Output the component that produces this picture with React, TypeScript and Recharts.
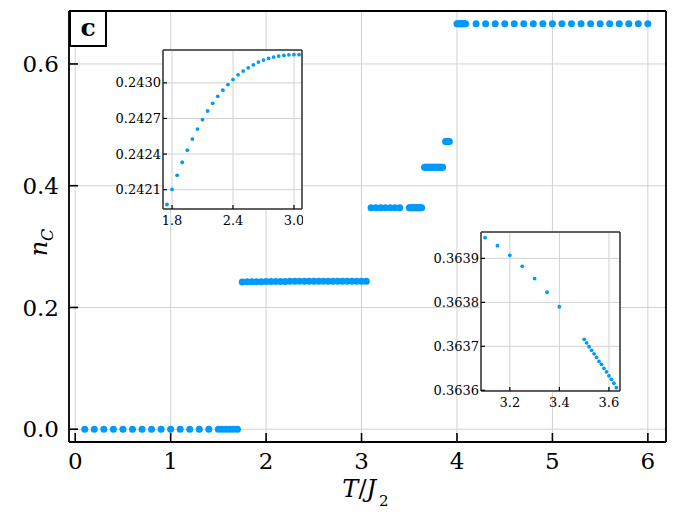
import React from 'react';
import { ScatterChart, Scatter, XAxis, YAxis, CartesianGrid } from 'recharts';

const BLUE = '#009AFA';
const FONT = '"DejaVu Serif", serif';
const GRID = '#d2d2d2';

// n_C against T/J2, one pair of arrays per plateau
const tZero = [0.1, 0.2, 0.3, 0.4, 0.5, 0.6, 0.7, 0.8, 0.9, 1.0, 1.1, 1.2, 1.3, 1.4, 1.5, 1.54, 1.58, 1.62, 1.66, 1.7];
const nZero = [0, 0, 0, 0, 0, 0, 0, 0, 0, 0, 0, 0, 0, 0, 0, 0, 0, 0, 0, 0];

const tLow = [1.75, 1.8, 1.85, 1.9, 1.95, 2.0, 2.05, 2.1, 2.15, 2.2, 2.25, 2.3, 2.35, 2.4, 2.45, 2.5, 2.55, 2.6, 2.65, 2.7, 2.75, 2.8, 2.85, 2.9, 2.95, 3.0, 3.05];
const nLow = [0.241975, 0.242102, 0.242221, 0.242331, 0.242433, 0.242526, 0.242611, 0.24269, 0.242763, 0.242828, 0.242887, 0.242938, 0.242986, 0.243028, 0.243068, 0.243099, 0.243127, 0.243152, 0.243175, 0.243192, 0.243206, 0.243217, 0.243226, 0.243231, 0.243236, 0.243238, 0.243238];

const tMid = [3.1, 3.15, 3.2, 3.25, 3.3, 3.35, 3.4, 3.5, 3.51, 3.52, 3.53, 3.54, 3.55, 3.56, 3.57, 3.58, 3.59, 3.6, 3.61, 3.62, 3.63];
const nMid = [0.363947, 0.363929, 0.363907, 0.363882, 0.363854, 0.363823, 0.36379, 0.363716, 0.363708, 0.363699, 0.363691, 0.363683, 0.363675, 0.363666, 0.363659, 0.36365, 0.363642, 0.363633, 0.363625, 0.363616, 0.363606];

const tUp1 = [3.66, 3.67, 3.68, 3.69, 3.7, 3.71, 3.72, 3.73, 3.74, 3.75, 3.76, 3.77, 3.78, 3.79, 3.8, 3.81, 3.82, 3.83, 3.84, 3.85];
const nUp1 = [0.4303, 0.4303, 0.4303, 0.4303, 0.4303, 0.4303, 0.4303, 0.4303, 0.4303, 0.4303, 0.4303, 0.4303, 0.4303, 0.4303, 0.4303, 0.4303, 0.4303, 0.4303, 0.4303, 0.4303];

const tUp2 = [3.88, 3.89, 3.9, 3.91, 3.92];
const nUp2 = [0.4725, 0.4725, 0.4725, 0.4725, 0.4725];

const tHigh = [4.0, 4.01, 4.02, 4.03, 4.04, 4.05, 4.06, 4.07, 4.08, 4.09, 4.2, 4.3, 4.4, 4.5, 4.6, 4.7, 4.8, 4.9, 5.0, 5.1, 5.2, 5.3, 5.4, 5.5, 5.6, 5.7, 5.8, 5.9, 6.0];
const nHigh = [0.666, 0.666, 0.666, 0.666, 0.666, 0.666, 0.666, 0.666, 0.666, 0.666, 0.666, 0.666, 0.666, 0.666, 0.666, 0.666, 0.666, 0.666, 0.666, 0.666, 0.666, 0.666, 0.666, 0.666, 0.666, 0.666, 0.666, 0.666, 0.666];

const xTicks = [0, 1, 2, 3, 4, 5, 6];
const yTicks = [0, 0.2, 0.4, 0.6];
const inset1XTicks = [1.8, 2.4, 3.0];
const inset1YTicks = [0.2421, 0.2424, 0.2427, 0.243];
const inset2XTicks = [3.2, 3.4, 3.6];
const inset2YTicks = [0.3636, 0.3637, 0.3638, 0.3639];

const rows = (t: number[], n: number[]) => t.map((x, i) => ({ t: x, n: n[i] }));

const dot = (r: number) => (p: any) => <circle cx={p.cx} cy={p.cy} r={r} fill={BLUE} />;
const bigDot = dot(3.5);
const smallDot = dot(1.9);

const XLabel = (props: any) => {
  const vb = props.viewBox;
  return (
    <text x={vb.x + vb.width / 2 - 2} y={vb.y + 55} textAnchor="middle" fontFamily={FONT} fontSize={24} fill="#000">
      <tspan fontStyle="italic">T</tspan>
      <tspan>/</tspan>
      <tspan fontStyle="italic">J</tspan>
      <tspan fontSize={15} dx={3} dy={9}>2</tspan>
    </text>
  );
};

const YLabel = (props: any) => {
  const vb = props.viewBox;
  const x = vb.x + 47;
  const y = vb.y + vb.height / 2 + 16;
  return (
    <text x={x} y={y} transform={`rotate(-90 ${x} ${y})`} textAnchor="middle" fontFamily={FONT} fontSize={24} fill="#000">
      <tspan fontStyle="italic">n</tspan>
      <tspan fontStyle="italic" fontSize={16} dy={6}>C</tspan>
    </text>
  );
};

const mainFrame = { stroke: '#000', strokeWidth: 1.8 };
const mainTick = { stroke: '#000', strokeWidth: 1.6 };

function Inset({ data, xDomain, yDomain, xTicks, yTicks, left, top }: any) {
  const frame = { stroke: '#333', strokeWidth: 1.5 };
  const tl = { stroke: '#000', strokeWidth: 1.2 };
  const tickFont = { fill: '#000', fontSize: 13, fontFamily: FONT };
  return (
    <div style={{ position: 'absolute', left, top }}>
      <ScatterChart width={196} height={184} margin={{ top: 0, right: 0, bottom: 0, left: 0 }}>
        <CartesianGrid xAxisId="b" yAxisId="l" stroke={GRID} fill="#fff" fillOpacity={1} />
        <XAxis xAxisId="b" type="number" dataKey="t" domain={xDomain} allowDataOverflow ticks={xTicks} interval={0}
          height={24} tickSize={-4} tickMargin={11} axisLine={frame} tickLine={tl} tick={tickFont}
          tickFormatter={(v: number) => v.toFixed(1)} />
        <XAxis xAxisId="t" orientation="top" type="number" dataKey="t" domain={xDomain} allowDataOverflow ticks={xTicks}
          interval={0} height={1} tickSize={-4} tick={false} axisLine={frame} tickLine={tl} />
        <YAxis yAxisId="l" type="number" dataKey="n" domain={yDomain} allowDataOverflow ticks={yTicks} interval={0}
          width={56} tickSize={-4} tickMargin={6} axisLine={frame} tickLine={tl} tick={tickFont}
          tickFormatter={(v: number) => v.toFixed(4)} />
        <YAxis yAxisId="r" orientation="right" type="number" dataKey="n" domain={yDomain} allowDataOverflow ticks={yTicks}
          interval={0} width={1} tickSize={-4} tick={false} axisLine={frame} tickLine={tl} />
        <Scatter xAxisId="b" yAxisId="l" data={data} shape={smallDot} isAnimationActive={false} />
      </ScatterChart>
    </div>
  );
}

export default function App() {
  const tickFont = { fill: '#000', fontSize: 23, fontFamily: FONT };
  return (
    <div style={{ position: 'absolute', left: 0, top: 0, width: 679, height: 520, background: '#fff' }}>
      <div style={{ position: 'absolute', left: 0, top: 0 }}>
        <ScatterChart width={679} height={520} margin={{ top: 10, right: 12, bottom: 0, left: 0 }}>
          <CartesianGrid xAxisId="b" yAxisId="l" stroke={GRID} strokeWidth={1} />
          <XAxis xAxisId="b" type="number" dataKey="t" domain={[-0.065, 6.19]} allowDataOverflow ticks={xTicks} interval={0}
            height={78} tickSize={-9} tickMargin={20} axisLine={mainFrame} tickLine={mainTick} tick={tickFont}
            label={XLabel} />
          <XAxis xAxisId="t" orientation="top" type="number" dataKey="t" domain={[-0.065, 6.19]} allowDataOverflow
            ticks={xTicks} interval={0} height={1} tickSize={-9} tick={false} axisLine={mainFrame} tickLine={mainTick} />
          <YAxis yAxisId="l" type="number" dataKey="n" domain={[-0.021, 0.687]} allowDataOverflow ticks={yTicks} interval={0}
            width={69} tickSize={-9} tickMargin={19} axisLine={mainFrame} tickLine={mainTick} tick={tickFont}
            tickFormatter={(v: number) => v.toFixed(1)} label={YLabel} />
          <YAxis yAxisId="r" orientation="right" type="number" dataKey="n" domain={[-0.021, 0.687]} allowDataOverflow
            ticks={yTicks} interval={0} width={1} tickSize={-9} tick={false} axisLine={mainFrame} tickLine={mainTick} />
          <Scatter xAxisId="b" yAxisId="l" data={rows(tZero, nZero)} shape={bigDot} isAnimationActive={false} />
          <Scatter xAxisId="b" yAxisId="l" data={rows(tLow, nLow)} shape={bigDot} isAnimationActive={false} />
          <Scatter xAxisId="b" yAxisId="l" data={rows(tMid, nMid)} shape={bigDot} isAnimationActive={false} />
          <Scatter xAxisId="b" yAxisId="l" data={rows(tUp1, nUp1)} shape={bigDot} isAnimationActive={false} />
          <Scatter xAxisId="b" yAxisId="l" data={rows(tUp2, nUp2)} shape={bigDot} isAnimationActive={false} />
          <Scatter xAxisId="b" yAxisId="l" data={rows(tHigh, nHigh)} shape={bigDot} isAnimationActive={false} />
        </ScatterChart>
      </div>
      <div style={{
        position: 'absolute', left: 69, top: 10, width: 38, height: 37, boxSizing: 'border-box',
        border: '2px solid #000', background: '#fff', fontFamily: FONT, fontWeight: 'bold', fontSize: 25,
        lineHeight: '31px', textAlign: 'center',
      }}>c</div>
      <Inset data={rows(tLow, nLow)} xDomain={[1.711, 3.079]} yDomain={[0.241937, 0.243277]}
        xTicks={inset1XTicks} yTicks={inset1YTicks} left={107} top={49} />
      <Inset data={rows(tMid, nMid)} xDomain={[3.0836, 3.6446]} yDomain={[0.3635984, 0.36396]}
        xTicks={inset2XTicks} yTicks={inset2YTicks} left={425} top={231} />
    </div>
  );
}
